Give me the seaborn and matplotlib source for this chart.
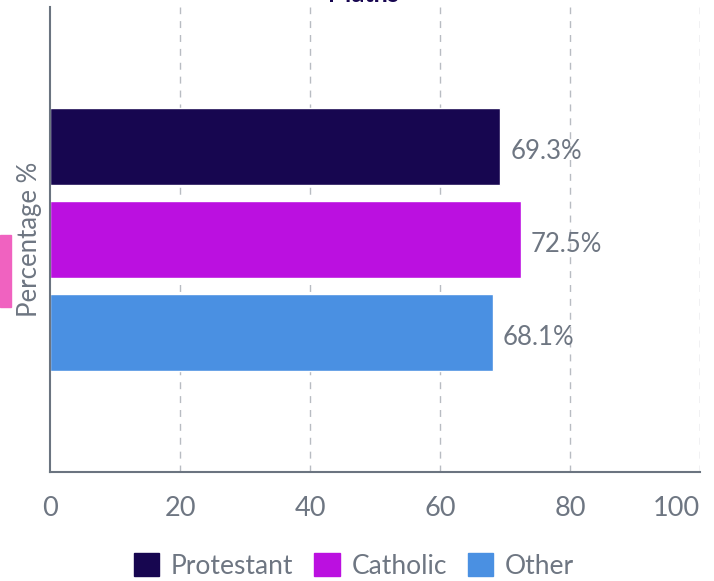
import matplotlib
matplotlib.use("Agg")
import matplotlib.pyplot as plt
import seaborn as sns
import pandas as pd
from matplotlib.patches import Rectangle

groups = ["Protestant", "Catholic", "Other"]
values = [69.3, 72.5, 68.1]
colors = ["#170650", "#BB10E0", "#4A90E2"]
x_ticks = [0, 20, 40, 60, 80, 100]
title = "Maths"

sns.set_theme(style="white")
plt.rcParams["font.family"] = ["Lato", "DejaVu Sans"]

df = pd.DataFrame({"group": groups, "value": values})

text_color = "#6e7682"

fig = plt.figure(figsize=(7.14, 5.81), dpi=100)
ax = fig.add_axes([50/714, 1 - 472/581, 650/714, 465/581])

sns.barplot(data=df, y="group", x="value", hue="group", palette=colors,
            order=groups, hue_order=groups, width=0.82, dodge=False,
            legend=False, ax=ax, saturation=1)

ax.set_xlim(0, 100)
ax.set_ylim(3.5, -1.5)
ax.set_xticks(x_ticks)
ax.set_xticklabels([str(t) for t in x_ticks], fontsize=19.5, color=text_color)
labs = ax.get_xticklabels()
labs[-1].set_horizontalalignment("right")
labs[-1].set_x(100)
ax.set_yticks([])
ax.tick_params(axis="x", length=0, pad=17)
ax.set_xlabel("")
ax.set_ylabel("Percentage %", fontsize=18.5, color=text_color, labelpad=6)

for t in x_ticks[1:]:
    ax.axvline(t, color="#b8bcc2", linestyle=(0, (5, 5)), linewidth=1, zorder=0)

for s in ["top", "right"]:
    ax.spines[s].set_visible(False)
for s in ["left", "bottom"]:
    ax.spines[s].set_color("#6b7480")
    ax.spines[s].set_linewidth(1.5)

for i, (g, v) in enumerate(zip(groups, values)):
    ax.annotate(f"{v}%", xy=(v, i), xytext=(7, -3.5), textcoords="offset points",
                va="center", ha="left", fontsize=18.5, color=text_color)

# partially visible title
fig.text(363/714, 1 - 2.5/581, title, ha="center", va="baseline",
         fontsize=18, fontweight="bold", color="#170650")

# pink marker at left edge
fig.patches.append(Rectangle((0, 1 - 307/581), 11/714, 72/581,
                             transform=fig.transFigure, color="#F062C0",
                             figure=fig))

handles = [Rectangle((0, 0), 1, 1, facecolor=c, edgecolor=c) for c in colors]
fig.legend(handles, groups, loc="center", bbox_to_anchor=(354/714, 1 - 566/581),
           ncol=3, frameon=False, fontsize=19, handlelength=0.95, handleheight=0.95,
           handletextpad=0.45, columnspacing=0.8, labelcolor=text_color)

fig.savefig("out.png", dpi=100)
